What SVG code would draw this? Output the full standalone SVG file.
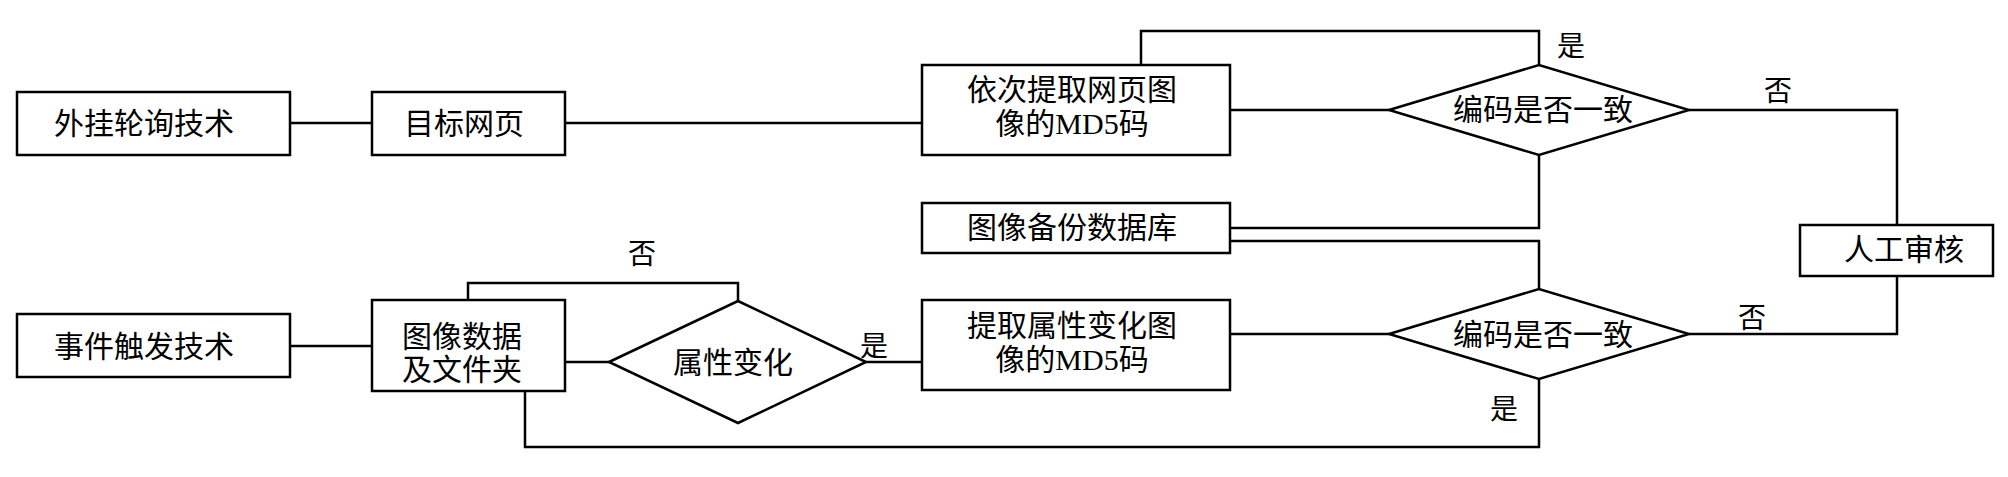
<svg xmlns="http://www.w3.org/2000/svg" width="2008" height="477" viewBox="0 0 2008 477">
<style>
.box{fill:#fff;stroke:#000;stroke-width:2.5}
.ln{fill:none;stroke:#000;stroke-width:2.5}
.t{font-family:"Liberation Serif","Noto Sans CJK SC",serif;font-size:30px;fill:#000;text-anchor:middle}
.lb{font-family:"Liberation Serif","Noto Sans CJK SC",serif;font-size:28px;fill:#000;text-anchor:middle}
</style>
<rect width="2008" height="477" fill="#fff"/>
<g id="connectors">
<polyline class="ln" points="290,123 372,123"/>
<polyline class="ln" points="565,123 922,123"/>
<polyline class="ln" points="1230,110 1389,110"/>
<polyline class="ln" points="1141,65 1141,31 1539,31 1539,65"/>
<polyline class="ln" points="1689,110 1897,110 1897,225"/>
<polyline class="ln" points="1230,228 1539,228 1539,155"/>
<polyline class="ln" points="1230,241 1539,241 1539,289"/>
<polyline class="ln" points="1897,276 1897,334 1689,334"/>
<polyline class="ln" points="1230,334 1389,334"/>
<polyline class="ln" points="290,346 372,346"/>
<polyline class="ln" points="565,362 609,362"/>
<polyline class="ln" points="866,362 922,362"/>
<polyline class="ln" points="468,300 468,283 738,283 738,301"/>
<polyline class="ln" points="525,391 525,447 1539,447 1539,379"/>
<text class="lb" x="1571" y="56">是</text>
<text class="lb" x="1778" y="101">否</text>
<text class="lb" x="642" y="264">否</text>
<text class="lb" x="874" y="356">是</text>
<text class="lb" x="1752" y="328">否</text>
<text class="lb" x="1504" y="419">是</text>
</g>
<g id="n1"><rect class="box" x="17" y="92" width="273" height="63"/><text class="t" x="144" y="134">外挂轮询技术</text></g>
<g id="n2"><rect class="box" x="372" y="92" width="193" height="63"/><text class="t" x="464" y="134">目标网页</text></g>
<g id="n3"><rect class="box" x="922" y="65" width="308" height="90"/><text class="t" x="1072" y="100">依次提取网页图</text><text class="t" x="1072" y="134">像的MD5码</text></g>
<g id="n4"><polygon class="box" points="1389,110 1539,65 1689,110 1539,155"/><text class="t" x="1543" y="120">编码是否一致</text></g>
<g id="n5"><rect class="box" x="922" y="203" width="308" height="50"/><text class="t" x="1072" y="238">图像备份数据库</text></g>
<g id="n6"><rect class="box" x="1800" y="225" width="193" height="51"/><text class="t" x="1904" y="260">人工审核</text></g>
<g id="n7"><polygon class="box" points="1389,334 1539,289 1689,334 1539,379"/><text class="t" x="1543" y="345">编码是否一致</text></g>
<g id="n8"><rect class="box" x="17" y="314" width="273" height="63"/><text class="t" x="144" y="357">事件触发技术</text></g>
<g id="n9"><rect class="box" x="372" y="300" width="193" height="91"/><text class="t" x="462" y="347">图像数据</text><text class="t" x="462" y="380">及文件夹</text></g>
<g id="n10"><polygon class="box" points="609,362 738,301 866,362 738,423"/><text class="t" x="733" y="373">属性变化</text></g>
<g id="n11"><rect class="box" x="922" y="300" width="308" height="90"/><text class="t" x="1072" y="336">提取属性变化图</text><text class="t" x="1072" y="370">像的MD5码</text></g>
</svg>
